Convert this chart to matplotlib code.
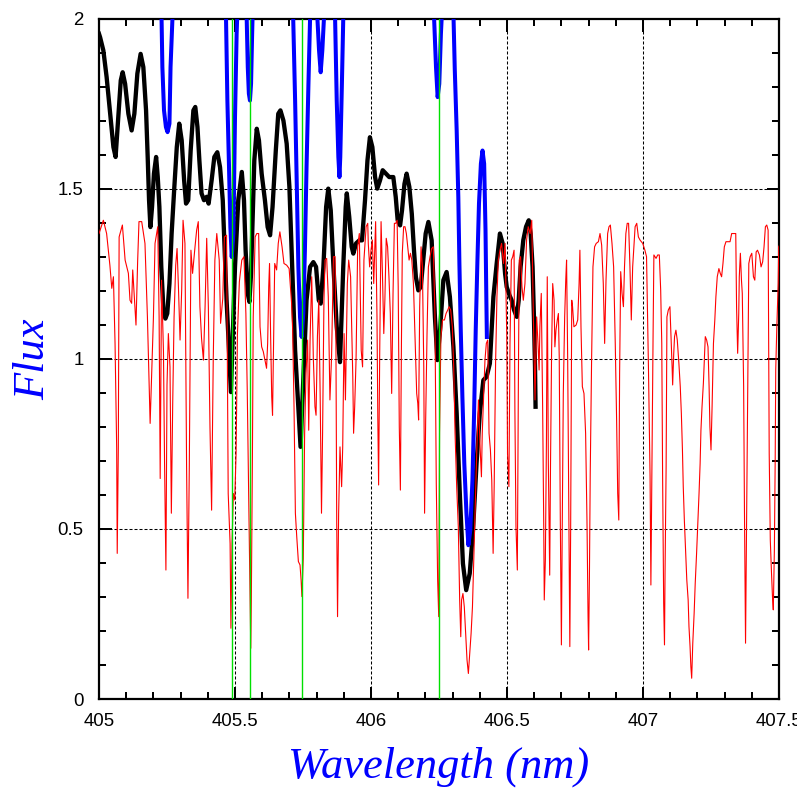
import numpy as np
import matplotlib
matplotlib.use('Agg')
import matplotlib.pyplot as plt

# synthetic spectrum (red, thin)
red_wave = [
  405.000, 405.016, 405.028, 405.040, 405.047, 405.053, 405.059, 405.065, 405.067, 405.071,
  405.074, 405.086, 405.096, 405.108, 405.114, 405.120, 405.124, 405.130, 405.136, 405.142,
  405.147, 405.157, 405.169, 405.178, 405.184, 405.188, 405.191, 405.200, 405.206, 405.216,
  405.221, 405.225, 405.230, 405.237, 405.241, 405.246, 405.250, 405.255, 405.261, 405.266,
  405.271, 405.276, 405.282, 405.287, 405.292, 405.298, 405.304, 405.309, 405.316, 405.322,
  405.327, 405.332, 405.338, 405.344, 405.349, 405.353, 405.359, 405.365, 405.371, 405.377,
  405.384, 405.390, 405.396, 405.402, 405.408, 405.414, 405.420, 405.426, 405.433, 405.442,
  405.447, 405.455, 405.461, 405.469, 405.475, 405.482, 405.485, 405.489, 405.494, 405.499,
  405.504, 405.509, 405.516, 405.525, 405.533, 405.540, 405.545, 405.550, 405.555, 405.558,
  405.560, 405.564, 405.567, 405.574, 405.580, 405.587, 405.592, 405.598, 405.604, 405.610,
  405.616, 405.620, 405.624, 405.627, 405.631, 405.635, 405.638, 405.642, 405.646, 405.653,
  405.659, 405.665, 405.673, 405.680, 405.690, 405.699, 405.708, 405.712, 405.717, 405.722,
  405.727, 405.733, 405.739, 405.743, 405.746, 405.751, 405.756, 405.761, 405.767, 405.771,
  405.776, 405.782, 405.788, 405.794, 405.798, 405.803, 405.808, 405.813, 405.818, 405.822,
  405.827, 405.831, 405.837, 405.843, 405.849, 405.855, 405.862, 405.868, 405.871, 405.874,
  405.877, 405.881, 405.886, 405.892, 405.896, 405.901, 405.906, 405.913, 405.918, 405.925,
  405.933, 405.936, 405.940, 405.945, 405.951, 405.957, 405.964, 405.969, 405.974, 405.982,
  405.988, 405.990, 405.995, 406.000, 406.005, 406.010, 406.017, 406.022, 406.025, 406.028,
  406.032, 406.037, 406.042, 406.047, 406.051, 406.056, 406.061, 406.066, 406.071, 406.076,
  406.081, 406.086, 406.091, 406.096, 406.100, 406.104, 406.108, 406.112, 406.115, 406.120,
  406.125, 406.130, 406.135, 406.140, 406.145, 406.150, 406.156, 406.162, 406.168, 406.172,
  406.175, 406.179, 406.184, 406.189, 406.194, 406.197, 406.201, 406.206, 406.211, 406.217,
  406.223, 406.229, 406.235, 406.240, 406.245, 406.249, 406.252, 406.257, 406.263, 406.270,
  406.276, 406.282, 406.287, 406.293, 406.299, 406.304, 406.309, 406.315, 406.321, 406.326,
  406.330, 406.333, 406.338, 406.343, 406.348, 406.353, 406.358, 406.363, 406.368, 406.373,
  406.377, 406.382, 406.389, 406.395, 406.401, 406.406, 406.409, 406.414, 406.419, 406.424,
  406.429, 406.434, 406.439, 406.444, 406.449, 406.453, 406.458, 406.463, 406.468, 406.474,
  406.480, 406.487, 406.493, 406.499, 406.502, 406.507, 406.511, 406.516, 406.521, 406.526,
  406.529, 406.533, 406.538, 406.542, 406.545, 406.550, 406.555, 406.560, 406.566, 406.572,
  406.578, 406.585, 406.591, 406.597, 406.603, 406.609, 406.614, 406.618, 406.621, 406.626,
  406.631, 406.635, 406.637, 406.641, 406.645, 406.648, 406.652, 406.657, 406.660, 406.664,
  406.668, 406.673, 406.676, 406.680, 406.685, 406.689, 406.692, 406.696, 406.700, 406.703,
  406.707, 406.712, 406.716, 406.719, 406.723, 406.727, 406.731, 406.734, 406.738, 406.741,
  406.746, 406.754, 406.760, 406.765, 406.768, 406.772, 406.777, 406.783, 406.789, 406.794,
  406.798, 406.800, 406.803, 406.806, 406.811, 406.816, 406.822, 406.828, 406.836, 406.842,
  406.848, 406.854, 406.859, 406.864, 406.870, 406.875, 406.880, 406.886, 406.892, 406.898,
  406.903, 406.907, 406.911, 406.914, 406.918, 406.923, 406.928, 406.932, 406.937, 406.942,
  406.947, 406.952, 406.957, 406.962, 406.971, 406.977, 406.983, 406.989, 406.999, 407.007,
  407.013, 407.020, 407.026, 407.029, 407.033, 407.037, 407.040, 407.048, 407.054, 407.060,
  407.065, 407.069, 407.072, 407.076, 407.079, 407.081, 407.085, 407.088, 407.093, 407.099,
  407.103, 407.107, 407.109, 407.113, 407.116, 407.121, 407.126, 407.132, 407.137, 407.141,
  407.145, 407.148, 407.152, 407.156, 407.161, 407.166, 407.169, 407.173, 407.176, 407.179,
  407.183, 407.188, 407.192, 407.197, 407.202, 407.206, 407.210, 407.213, 407.217, 407.222,
  407.226, 407.229, 407.234, 407.239, 407.243, 407.246, 407.250, 407.254, 407.259, 407.264,
  407.268, 407.273, 407.279, 407.284, 407.289, 407.294, 407.299, 407.305, 407.312, 407.320,
  407.326, 407.335, 407.341, 407.344, 407.348, 407.352, 407.354, 407.358, 407.362, 407.365,
  407.370, 407.373, 407.377, 407.381, 407.385, 407.389, 407.394, 407.400, 407.406, 407.411,
  407.416, 407.421, 407.428, 407.434, 407.440, 407.445, 407.450, 407.455, 407.460, 407.462,
  407.464, 407.468, 407.472, 407.476, 407.479, 407.483, 407.486, 407.488, 407.492, 407.497,
  407.499, 407.502,
]
red_flux = [
  1.368, 1.407, 1.368, 1.275, 1.207, 1.241, 1.045, 0.737, 0.428, 0.737,
  1.358, 1.393, 1.290, 1.251, 1.172, 1.163, 1.261, 1.182, 1.099, 1.285,
  1.403, 1.403, 1.339, 1.123, 0.937, 0.810, 0.888, 1.119, 1.339, 1.388,
  1.123, 0.648, 1.231, 1.021, 0.697, 0.379, 0.923, 1.074, 0.976, 0.546,
  0.869, 1.123, 1.275, 1.324, 1.212, 1.055, 1.202, 1.407, 1.339, 0.683,
  0.296, 0.683, 1.319, 1.251, 1.295, 1.329, 1.378, 1.403, 1.153, 1.060,
  0.996, 1.153, 1.354, 1.153, 0.800, 0.555, 0.996, 1.290, 1.368, 1.290,
  1.104, 1.177, 1.358, 1.363, 0.604, 0.457, 0.208, 0.457, 0.604, 0.585,
  0.722, 1.074, 1.226, 1.290, 1.300, 1.133, 0.908, 0.624, 0.340, 0.149,
  0.291, 0.712, 1.123, 1.358, 1.368, 1.368, 1.094, 1.035, 1.021, 0.996,
  0.972, 1.045, 1.212, 1.280, 1.065, 0.888, 0.834, 1.065, 1.280, 1.261,
  1.339, 1.373, 1.329, 1.280, 1.275, 1.265, 1.163, 1.084, 0.859, 0.546,
  0.477, 0.404, 0.394, 0.350, 0.301, 0.413, 0.781, 0.957, 1.055, 0.790,
  1.055, 1.241, 1.001, 0.859, 0.834, 1.065, 1.172, 0.898, 0.546, 0.781,
  1.172, 1.290, 1.295, 1.182, 0.879, 1.006, 1.300, 1.300, 1.055, 0.516,
  0.242, 0.546, 0.741, 0.624, 0.741, 1.074, 0.879, 1.221, 1.290, 1.241,
  0.947, 0.781, 0.859, 0.996, 1.329, 1.368, 1.025, 0.976, 1.290, 1.388,
  1.398, 1.339, 1.270, 1.319, 1.349, 1.221, 1.403, 1.123, 0.830, 0.629,
  1.016, 1.403, 1.251, 1.074, 1.172, 1.354, 1.329, 1.241, 1.133, 0.898,
  1.192, 1.398, 1.398, 1.407, 1.212, 0.800, 0.614, 1.055, 1.310, 1.388,
  1.388, 1.368, 1.329, 1.290, 1.310, 1.290, 1.221, 1.055, 0.898, 0.869,
  0.820, 1.153, 1.329, 1.270, 0.976, 0.546, 0.820, 1.074, 1.270, 1.300,
  1.324, 1.329, 1.133, 0.634, 0.350, 0.242, 0.781, 1.065, 1.114, 1.114,
  1.133, 1.143, 1.153, 1.143, 1.094, 0.976, 0.781, 0.624, 0.506, 0.291,
  0.183, 0.291, 0.310, 0.271, 0.193, 0.115, 0.075, 0.134, 0.193, 0.271,
  0.389, 0.536, 0.732, 0.879, 0.741, 0.653, 0.781, 0.888, 0.996, 1.045,
  1.055, 0.781, 0.732, 0.643, 0.428, 0.634, 0.986, 1.182, 1.290, 1.319,
  1.339, 1.280, 1.339, 1.074, 0.722, 0.624, 1.045, 1.290, 1.300, 1.319,
  0.849, 0.506, 0.379, 0.957, 1.290, 1.300, 1.212, 1.172, 1.221, 1.349,
  1.388, 1.368, 1.407, 1.123, 0.879, 1.123, 1.045, 0.967, 1.094, 1.192,
  0.859, 0.516, 0.291, 0.408, 0.761, 1.241, 0.692, 0.364, 0.692, 1.025,
  1.221, 1.172, 1.035, 1.084, 1.114, 1.133, 1.006, 0.526, 0.159, 0.497,
  0.898, 1.123, 1.231, 1.290, 1.006, 0.585, 0.154, 0.497, 1.172, 1.153,
  1.094, 1.099, 1.114, 1.221, 1.319, 1.094, 0.918, 0.898, 0.781, 0.526,
  0.242, 0.144, 0.359, 0.663, 0.996, 1.270, 1.329, 1.339, 1.344, 1.368,
  1.334, 1.221, 1.045, 1.231, 1.368, 1.388, 1.393, 1.339, 1.270, 1.045,
  0.820, 0.604, 0.526, 0.957, 1.256, 1.192, 1.153, 1.270, 1.368, 1.398,
  1.398, 1.270, 1.114, 1.270, 1.388, 1.398, 1.358, 1.349, 1.339, 1.319,
  1.300, 0.976, 0.653, 0.335, 0.702, 1.065, 1.305, 1.295, 1.305, 1.305,
  1.202, 1.045, 0.663, 0.281, 0.159, 0.369, 0.683, 1.123, 1.143, 1.153,
  1.065, 0.976, 0.923, 1.016, 1.065, 1.084, 1.055, 0.986, 0.918, 0.839,
  0.732, 0.624, 0.526, 0.448, 0.350, 0.291, 0.213, 0.154, 0.095, 0.061,
  0.164, 0.252, 0.340, 0.428, 0.526, 0.604, 0.692, 0.790, 0.859, 0.928,
  1.006, 1.065, 1.055, 1.035, 0.918, 0.800, 0.732, 0.859, 1.045, 1.114,
  1.182, 1.241, 1.265, 1.251, 1.241, 1.280, 1.329, 1.344, 1.344, 1.344,
  1.368, 1.368, 1.368, 1.153, 1.016, 1.133, 1.241, 1.310, 1.231, 1.192,
  0.918, 0.555, 0.164, 0.536, 0.908, 1.280, 1.300, 1.310, 1.241, 1.231,
  1.314, 1.319, 1.305, 1.270, 1.285, 1.329, 1.388, 1.393, 1.378, 1.055,
  0.722, 0.467, 0.379, 0.301, 0.262, 0.438, 0.702, 0.967, 1.094, 1.221,
  1.329, 1.334,
]

# observed spectrum (black, thick)
black_wave = [
  405.000, 405.004, 405.016, 405.028, 405.040, 405.053, 405.061, 405.071, 405.080, 405.087,
  405.096, 405.108, 405.120, 405.130, 405.141, 405.153, 405.163, 405.173, 405.179, 405.184,
  405.189, 405.195, 405.202, 405.210, 405.216, 405.222, 405.229, 405.237, 405.244, 405.251,
  405.259, 405.267, 405.277, 405.286, 405.295, 405.304, 405.313, 405.320, 405.328, 405.337,
  405.347, 405.354, 405.362, 405.369, 405.377, 405.386, 405.396, 405.403, 405.414, 405.424,
  405.435, 405.445, 405.455, 405.462, 405.469, 405.475, 405.485, 405.500, 405.512, 405.525,
  405.533, 405.539, 405.547, 405.553, 405.559, 405.565, 405.571, 405.580, 405.588, 405.598,
  405.610, 405.620, 405.629, 405.638, 405.650, 405.659, 405.667, 405.678, 405.690, 405.700,
  405.708, 405.714, 405.721, 405.741, 405.763, 405.776, 405.788, 405.798, 405.808, 405.815,
  405.825, 405.835, 405.843, 405.852, 405.862, 405.874, 405.886, 405.898, 405.907, 405.911,
  405.920, 405.929, 405.935, 405.945, 405.957, 405.967, 405.978, 405.987, 405.996, 406.005,
  406.015, 406.023, 406.033, 406.043, 406.055, 406.067, 406.082, 406.091, 406.098, 406.107,
  406.114, 406.123, 406.131, 406.141, 406.150, 406.158, 406.165, 406.174, 406.183, 406.192,
  406.201, 406.211, 406.223, 406.235, 406.244, 406.254, 406.266, 406.278, 406.290, 406.303,
  406.315, 406.327, 406.338, 406.350, 406.363, 406.375, 406.388, 406.400, 406.413, 406.425,
  406.437, 406.450, 406.462, 406.474, 406.484, 406.493, 406.499, 406.509, 406.517, 406.526,
  406.536, 406.543, 406.550, 406.560, 406.570, 406.580, 406.587, 406.594, 406.599, 406.603,
  406.605,
]
black_flux = [
  1.955, 1.945, 1.906, 1.828, 1.730, 1.622, 1.593, 1.710, 1.818, 1.842,
  1.808, 1.720, 1.671, 1.720, 1.838, 1.896, 1.857, 1.730, 1.593, 1.466,
  1.387, 1.446, 1.544, 1.593, 1.534, 1.446, 1.270, 1.142, 1.118, 1.133,
  1.221, 1.368, 1.505, 1.622, 1.691, 1.642, 1.524, 1.456, 1.466, 1.612,
  1.730, 1.740, 1.681, 1.583, 1.486, 1.466, 1.476, 1.456, 1.524, 1.593,
  1.607, 1.563, 1.466, 1.319, 1.172, 1.075, 0.902, 1.270, 1.466, 1.549,
  1.466, 1.319, 1.191, 1.167, 1.250, 1.417, 1.583, 1.676, 1.642, 1.544,
  1.466, 1.387, 1.363, 1.446, 1.612, 1.720, 1.730, 1.700, 1.632, 1.505,
  1.319, 1.172, 1.025, 0.741, 1.172, 1.270, 1.284, 1.270, 1.172, 1.162,
  1.270, 1.446, 1.500, 1.436, 1.270, 1.094, 0.990, 1.270, 1.446, 1.486,
  1.417, 1.329, 1.309, 1.339, 1.348, 1.348, 1.466, 1.583, 1.651, 1.622,
  1.534, 1.500, 1.524, 1.554, 1.544, 1.534, 1.534, 1.475, 1.407, 1.392,
  1.436, 1.514, 1.544, 1.505, 1.426, 1.319, 1.240, 1.201, 1.211, 1.289,
  1.368, 1.402, 1.348, 1.123, 0.996, 1.084, 1.231, 1.255, 1.182, 1.035,
  0.839, 0.594, 0.398, 0.320, 0.369, 0.496, 0.692, 0.839, 0.937, 0.947,
  0.986, 1.182, 1.279, 1.368, 1.339, 1.250, 1.211, 1.187, 1.172, 1.143,
  1.123, 1.172, 1.270, 1.349, 1.388, 1.407, 1.368, 1.270, 1.123, 0.976,
  0.859,
]

# second spectrum (blue, thick), mostly above the plot top
blue_wave = [
  405.200, 405.230, 405.233, 405.239, 405.246, 405.252, 405.259, 405.263, 405.270, 405.300,
  405.467, 405.472, 405.478, 405.483, 405.488, 405.494, 405.500, 405.506, 405.510, 405.527,
  405.543, 405.547, 405.551, 405.555, 405.559, 405.563, 405.565, 405.640,
  405.714, 405.721, 405.727, 405.733, 405.739, 405.745, 405.751, 405.757, 405.763, 405.770,
  405.776, 405.790, 405.803, 405.809, 405.815, 405.821, 405.827, 405.850,
  405.868, 405.874, 405.880, 405.884, 405.887, 405.893, 405.898, 406.060,
  406.232, 406.239, 406.245, 406.251, 406.257, 406.261, 406.280,
  406.302, 406.308, 406.315, 406.321, 406.325, 406.330, 406.336, 406.343, 406.351, 406.358,
  406.365, 406.373, 406.379, 406.385, 406.391, 406.397, 406.404, 406.410, 406.416, 406.421,
  406.424, 406.426,
]
blue_flux = [
  2.300, 2.000, 1.857, 1.730, 1.681, 1.666, 1.691, 1.857, 2.000, 2.300,
  2.000, 1.759, 1.563, 1.387, 1.299, 1.368, 1.710, 1.955, 2.050, 2.200,
  2.000, 1.857, 1.779, 1.759, 1.808, 1.955, 2.020, 2.300,
  2.000, 1.759, 1.515, 1.270, 1.123, 1.064, 1.133, 1.319, 1.563, 1.808,
  2.000, 2.200, 2.000, 1.906, 1.842, 1.906, 2.000, 2.200,
  2.000, 1.759, 1.593, 1.534, 1.593, 1.808, 2.000, 2.300,
  2.000, 1.857, 1.769, 1.808, 1.955, 2.020, 2.200,
  2.050, 1.850, 1.671, 1.475, 1.280, 1.084, 0.888, 0.692, 0.545, 0.452,
  0.496, 0.643, 0.839, 1.084, 1.280, 1.456, 1.573, 1.612, 1.573, 1.377,
  1.182, 1.064,
]

# marked line positions (green)
line_marks = [405.490, 405.556, 405.747, 406.251]

x_ticks = [405, 405.5, 406, 406.5, 407, 407.5]
x_ticklabels = ['405', '405.5', '406', '406.5', '407', '407.5']
y_ticks = [0, 0.5, 1, 1.5, 2]
y_ticklabels = ['0', '0.5', '1', '1.5', '2']

fig = plt.figure(figsize=(7.97, 7.97), dpi=100)
ax = fig.add_axes([99/797, 98/797, 680/797, 680.5/797])

ax.plot(black_wave, black_flux, color='black', lw=3.1, zorder=2, solid_joinstyle='round')
ax.plot(blue_wave, blue_flux, color='#0000ff', lw=2.9, zorder=3, solid_joinstyle='round')
ax.plot(red_wave, red_flux, color='#ff0000', lw=0.8, zorder=4)
for w in line_marks:
    ax.axvline(w, color='#00e000', lw=1.0, zorder=5)

ax.set_xlim(405, 407.5)
ax.set_ylim(0, 2)

tick_font = {'family': ['Liberation Sans', 'DejaVu Sans'], 'size': 13.4}
ax.set_xticks(x_ticks)
ax.set_xticklabels(x_ticklabels, fontdict=tick_font)
ax.set_yticks(y_ticks)
ax.set_yticklabels(y_ticklabels, fontdict=tick_font)
ax.set_xticks(np.arange(405, 407.51, 0.1), minor=True)
ax.set_yticks(np.arange(0, 2.01, 0.1), minor=True)

ax.tick_params(which='both', direction='in', top=True, right=True, width=1.44, color='black')
ax.tick_params(which='major', length=9)
ax.tick_params(which='minor', length=4.8)
ax.tick_params(axis='x', which='major', pad=10)
ax.tick_params(axis='y', which='major', pad=11)

for s in ax.spines.values():
    s.set_linewidth(1.6)

# dotted grid at the inner major ticks
for xv in x_ticks[1:-1]:
    ax.axvline(xv, color='black', lw=0.75, ls=(0, (2.9, 1.9)), zorder=1)
for yv in y_ticks[1:-1]:
    ax.axhline(yv, color='black', lw=0.75, ls=(0, (2.9, 1.9)), zorder=1)

lab_font = {'family': ['Liberation Serif', 'DejaVu Serif'], 'style': 'italic', 'size': 32, 'color': '#0000ff'}
ax.set_xlabel('Wavelength (nm)', fontdict=lab_font, labelpad=12)
ax.set_ylabel('Flux', fontdict=lab_font, labelpad=3)

fig.savefig('out.png', dpi=100)
